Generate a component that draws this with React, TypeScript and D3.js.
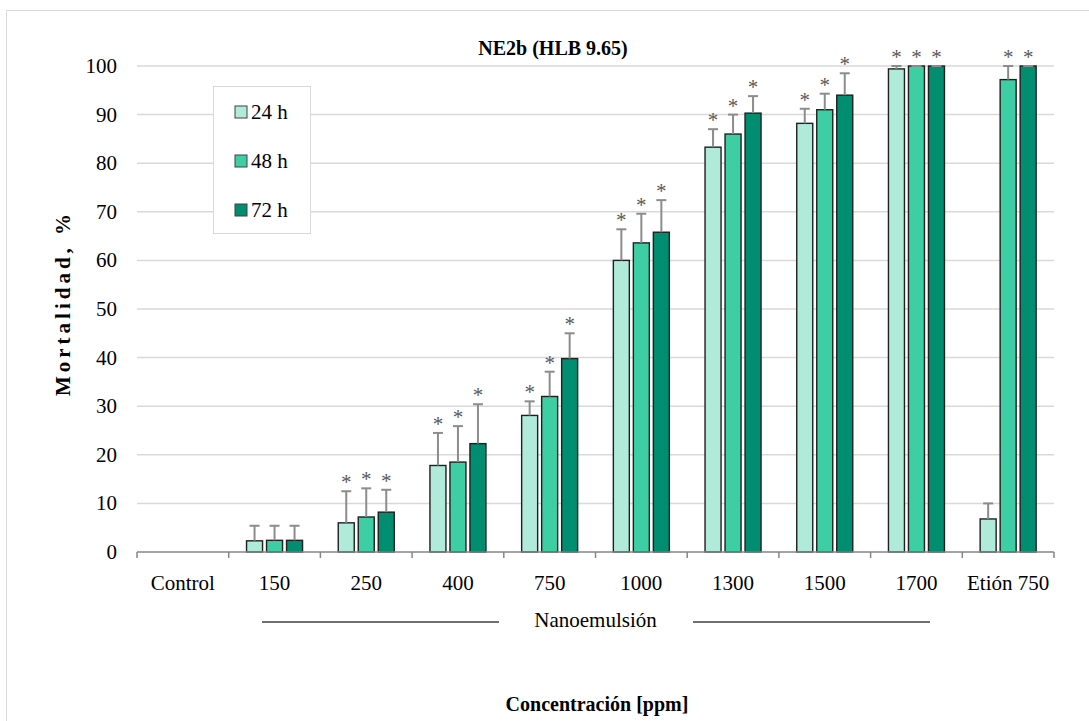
import { useEffect, useRef } from 'react';
import * as d3 from 'd3';

// categorías y series
const categories = ['Control', '150', '250', '400', '750', '1000', '1300', '1500', '1700', 'Etión 750'];
const series = ['24 h', '48 h', '72 h'];
const colors = ['#b0ebd9', '#3dcfa3', '#008d70'];

// medias de mortalidad (%)
const mean24 = [0, 2.3, 6.0, 17.8, 28.1, 60.0, 83.3, 88.2, 99.4, 6.8];
const mean48 = [0, 2.4, 7.2, 18.5, 32.0, 63.6, 86.0, 91.0, 100, 97.2];
const mean72 = [0, 2.4, 8.2, 22.3, 39.8, 65.8, 90.3, 94.0, 100, 100];

// desviación (solo barra superior)
const err24 = [0, 3.1, 6.5, 6.7, 2.9, 6.4, 3.7, 3.0, 0.6, 3.2];
const err48 = [0, 3.0, 5.9, 7.4, 5.1, 6.0, 4.0, 3.3, 0, 2.8];
const err72 = [0, 3.0, 4.6, 8.1, 5.2, 6.6, 3.5, 4.5, 0, 0];

// diferencia significativa (*)
const sig24 = [0, 0, 1, 1, 1, 1, 1, 1, 1, 0];
const sig48 = [0, 0, 1, 1, 1, 1, 1, 1, 1, 1];
const sig72 = [0, 0, 1, 1, 1, 1, 1, 1, 1, 1];

const yTicks = [0, 10, 20, 30, 40, 50, 60, 70, 80, 90, 100];

function App() {
  const svgRef = useRef<SVGSVGElement>(null);

  useEffect(() => {
    const width = 1089;
    const height = 721;
    const plot = { left: 137, right: 1054, top: 66, bottom: 552 };
    const font = "'Liberation Serif', 'DejaVu Serif', serif";

    const svg = d3.select(svgRef.current)
      .attr('width', width)
      .attr('height', height)
      .attr('font-family', font);
    svg.selectAll('*').remove();

    svg.append('rect')
      .attr('width', width).attr('height', height)
      .attr('fill', '#fff');

    // borde del área del gráfico
    svg.append('rect')
      .attr('x', 6.5).attr('y', 10.5)
      .attr('width', 1200).attr('height', 900)
      .attr('fill', 'none')
      .attr('stroke', '#d9d9d9');

    const x0 = d3.scaleBand()
      .domain(categories)
      .range([plot.left, plot.right]);

    const x1 = d3.scaleBand()
      .domain(series)
      .range([-28, 28])
      .paddingInner(0.2);

    const y = d3.scaleLinear()
      .domain([0, 100])
      .range([plot.bottom, plot.top]);

    // líneas de cuadrícula
    svg.append('g')
      .selectAll('line')
      .data(yTicks.filter(t => t > 0))
      .join('line')
      .attr('x1', plot.left).attr('x2', plot.right)
      .attr('y1', d => y(d)).attr('y2', d => y(d))
      .attr('stroke', '#d9d9d9')
      .attr('stroke-width', 1.5);

    svg.append('g')
      .selectAll('text')
      .data(yTicks)
      .join('text')
      .attr('x', 117)
      .attr('y', d => y(d) + 7)
      .attr('text-anchor', 'end')
      .attr('font-size', 21)
      .attr('fill', '#000')
      .text(d => d);

    const means = [mean24, mean48, mean72];
    const errs = [err24, err48, err72];
    const sigs = [sig24, sig48, sig72];

    const rows = categories.flatMap((c, i) =>
      series.map((s, k) => ({
        cat: c, s, k,
        v: means[k][i],
        e: errs[k][i],
        sig: sigs[k][i],
      }))
    );

    const cx = d => x0(d.cat) + x0.bandwidth() / 2 + x1(d.s);

    // barras
    svg.append('g')
      .selectAll('rect')
      .data(rows.filter(d => d.v > 0))
      .join('rect')
      .attr('x', d => cx(d))
      .attr('y', d => y(d.v))
      .attr('width', x1.bandwidth())
      .attr('height', d => y(0) - y(d.v))
      .attr('fill', d => colors[d.k])
      .attr('stroke', '#1f1f1f')
      .attr('stroke-width', 1.4);

    // barras de error
    const eg = svg.append('g')
      .attr('stroke', '#8c8c8c')
      .attr('stroke-width', 2);
    const withErr = rows.filter(d => d.v > 0);
    eg.selectAll('line.v')
      .data(withErr.filter(d => d.e > 0))
      .join('line')
      .attr('class', 'v')
      .attr('x1', d => cx(d) + x1.bandwidth() / 2)
      .attr('x2', d => cx(d) + x1.bandwidth() / 2)
      .attr('y1', d => y(d.v))
      .attr('y2', d => y(d.v + d.e));
    eg.selectAll('line.c')
      .data(withErr)
      .join('line')
      .attr('class', 'c')
      .attr('x1', d => cx(d) + x1.bandwidth() / 2 - 5)
      .attr('x2', d => cx(d) + x1.bandwidth() / 2 + 5)
      .attr('y1', d => y(d.v + d.e))
      .attr('y2', d => y(d.v + d.e));

    // asteriscos
    svg.append('g')
      .selectAll('text')
      .data(rows.filter(d => d.sig))
      .join('text')
      .attr('x', d => cx(d) + x1.bandwidth() / 2)
      .attr('y', d => y(d.v + d.e) - 2)
      .attr('text-anchor', 'middle')
      .attr('font-size', 21)
      .attr('fill', '#595959')
      .text('*');

    // eje x
    svg.append('line')
      .attr('x1', plot.left).attr('x2', plot.right)
      .attr('y1', plot.bottom).attr('y2', plot.bottom)
      .attr('stroke', '#868686')
      .attr('stroke-width', 1.5);
    const bounds = categories.map(c => x0(c)).concat([plot.right]);
    svg.append('g')
      .selectAll('line')
      .data(bounds)
      .join('line')
      .attr('x1', d => d).attr('x2', d => d)
      .attr('y1', plot.bottom).attr('y2', plot.bottom + 6)
      .attr('stroke', '#868686')
      .attr('stroke-width', 1.5);

    svg.append('g')
      .selectAll('text')
      .data(categories)
      .join('text')
      .attr('x', d => x0(d) + x0.bandwidth() / 2)
      .attr('y', 590)
      .attr('text-anchor', 'middle')
      .attr('font-size', 21)
      .text(d => d);

    // Nanoemulsión
    const midX = (x0('1000') + x0('750') + x0.bandwidth()) / 2;
    svg.append('text')
      .attr('x', midX).attr('y', 627)
      .attr('text-anchor', 'middle')
      .attr('font-size', 21)
      .text('Nanoemulsión');
    [[262, 499], [693, 930]].forEach(([a, b]) => {
      svg.append('line')
        .attr('x1', a).attr('x2', b)
        .attr('y1', 622).attr('y2', 622)
        .attr('stroke', '#404040')
        .attr('stroke-width', 1.5);
    });

    // títulos
    svg.append('text')
      .attr('x', 553).attr('y', 55)
      .attr('text-anchor', 'middle')
      .attr('font-size', 20)
      .attr('font-weight', 'bold')
      .text('NE2b (HLB 9.65)');

    svg.append('text')
      .attr('x', 597).attr('y', 711)
      .attr('text-anchor', 'middle')
      .attr('font-size', 20)
      .attr('font-weight', 'bold')
      .text('Concentración [ppm]');

    svg.append('text')
      .attr('transform', 'translate(70,303) rotate(-90)')
      .attr('text-anchor', 'middle')
      .attr('font-size', 21)
      .attr('font-weight', 'bold')
      .attr('letter-spacing', 4)
      .text('Mortalidad, %');

    // leyenda
    const lg = svg.append('g');
    lg.append('rect')
      .attr('x', 213.5).attr('y', 86.5)
      .attr('width', 97).attr('height', 147)
      .attr('fill', '#fff')
      .attr('stroke', '#d9d9d9');
    series.forEach((s, k) => {
      const cy = 112 + k * 49;
      lg.append('rect')
        .attr('x', 235).attr('y', cy - 6)
        .attr('width', 12).attr('height', 12)
        .attr('fill', colors[k])
        .attr('stroke', '#404040');
      lg.append('text')
        .attr('x', 251).attr('y', cy + 7)
        .attr('font-size', 21)
        .text(s);
    });
  }, []);

  return (
    <div style={{ position: 'absolute', left: 0, top: 0 }}>
      <svg ref={svgRef}></svg>
    </div>
  );
}

export default App;
